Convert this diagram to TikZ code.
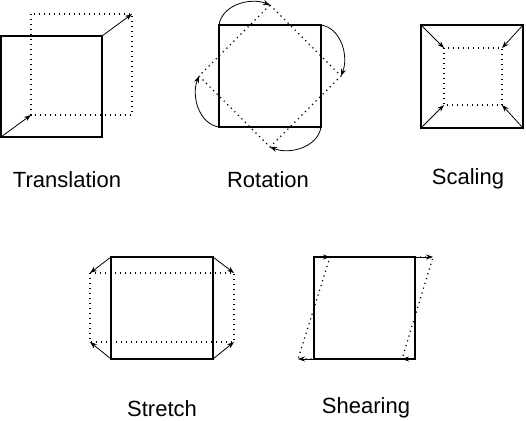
\documentclass[tikz,border=0pt]{standalone}
\usepackage{fontspec}
\setmainfont{Liberation Sans}
\usetikzlibrary{arrows.meta}
\begin{document}
\begin{tikzpicture}[x=1pt,y=-1pt,
  solidline/.style={line width=1.4pt},
  dotline/.style={line width=1.2pt,dash pattern=on 1.2pt off 3.8pt},
  arr/.style={line width=0.8pt,-{Stealth[length=7pt,width=5pt]}},
  lbl/.style={anchor=base,inner sep=0pt,font=\fontsize{22}{25}\selectfont}]
\useasboundingbox (0,0) rectangle (526,420);
% ---------- Translation ----------
\coordinate (t1) at (1,36);   \coordinate (t2) at (102,137);
\coordinate (t3) at (31,14);  \coordinate (t4) at (132,115);
\coordinate (tbl) at (1,137); \coordinate (tdbl) at (31,115);
\coordinate (ttr) at (102,36);\coordinate (tdtr) at (132,14);
\draw[dotline] (t3) rectangle (t4);
\draw[solidline] (t1) rectangle (t2);
\draw[arr] (tbl) -- (tdbl);
\draw[arr] (ttr) -- (tdtr);
\node[lbl] (ltrans) at (67,187) {Translation};
% ---------- Rotation ----------
\coordinate (rc) at (270,76);
\coordinate (rtl) at (219,25); \coordinate (rtr) at (321,25);
\coordinate (rbr) at (321,127);\coordinate (rbl) at (219,127);
\coordinate (rt) at (270,5);  \coordinate (rr) at (341,76);
\coordinate (rb) at (270,147);\coordinate (rl) at (199,76);
\draw[dotline] (rt) -- (rr) -- (rb) -- (rl) -- cycle;
\draw[solidline] (rtl) rectangle (rbr);
\draw[arr] (rtl) .. controls (222,5) and (250,-3) .. (rt);
\draw[arr] (rtr) .. controls (341,28) and (349,56) .. (rr);
\draw[arr] (rbr) .. controls (318,147) and (290,155) .. (rb);
\draw[arr] (rbl) .. controls (199,124) and (191,96) .. (rl);
\node[lbl] (lrot) at (268,187) {Rotation};
% ---------- Scaling ----------
\coordinate (stl) at (421,25); \coordinate (sbr) at (523,128);
\coordinate (str) at (523,25); \coordinate (sbl) at (421,128);
\coordinate (sdtl) at (444,48); \coordinate (sdbr) at (502,105);
\coordinate (sdtr) at (502,48); \coordinate (sdbl) at (444,105);
\draw[dotline] (sdtl) rectangle (sdbr);
\draw[solidline] (stl) rectangle (sbr);
\draw[arr] (stl) -- (sdtl);
\draw[arr] (str) -- (sdtr);
\draw[arr] (sbl) -- (sdbl);
\draw[arr] (sbr) -- (sdbr);
\node[lbl] (lscal) at (468,184) {Scaling};
% ---------- Stretch ----------
\coordinate (etl) at (111,257); \coordinate (ebr) at (213,359);
\coordinate (etr) at (213,257); \coordinate (ebl) at (111,359);
\coordinate (edtl) at (90,273); \coordinate (edbr) at (234,342);
\coordinate (edtr) at (234,273); \coordinate (edbl) at (90,342);
\draw[dotline] (edtl) rectangle (edbr);
\draw[solidline] (etl) rectangle (ebr);
\draw[arr] (etl) -- (edtl);
\draw[arr] (etr) -- (edtr);
\draw[arr] (ebl) -- (edbl);
\draw[arr] (ebr) -- (edbr);
\node[lbl] (lstr) at (162,416) {Stretch};
% ---------- Shearing ----------
\coordinate (htl) at (314,257); \coordinate (hbr) at (415,359);
\coordinate (htr) at (415,257); \coordinate (hbl) at (314,359);
\coordinate (hdtl) at (330,257); \coordinate (hdtr) at (433,257);
\coordinate (hdbr) at (402,359); \coordinate (hdbl) at (298,359);
\draw[solidline] (htl) rectangle (hbr);
\draw[dotline] (hdtl) -- (hdtr) -- (hdbr) -- (hdbl) -- cycle;
\draw[arr] (htl) -- (hdtl);
\draw[arr] (htr) -- (hdtr);
\draw[arr] (hbl) -- (hdbl);
\draw[arr] (hbr) -- (hdbr);
\node[lbl] (lshear) at (366,413) {Shearing};
\end{tikzpicture}
\end{document}
